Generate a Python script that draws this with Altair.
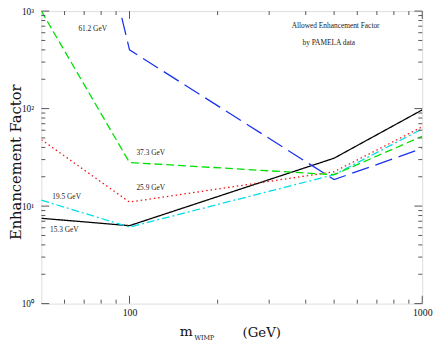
import altair as alt
import pandas as pd

# ---- data ----
masses = [50, 100, 500, 1000]
series_names = ["15.3 GeV", "19.5 GeV", "25.9 GeV", "37.3 GeV", "61.2 GeV"]
black_15 = [7.5, 6.3, 31, 97]
cyan_19 = [11.5, 6.1, 21, 62]
red_25 = [48, 11, 22.5, 65]
green_37 = [1000, 28, 21, 52]
blue_masses = [90, 100, 500, 1000]
blue_61 = [1500, 400, 18.7, 39]

label_x = [53.5, 54.5, 105.6, 105.6, 66.9]
label_y = [5.7, 12.4, 15.2, 34.7, 648]

x_major = [100, 1000]
x_minor = [60, 70, 80, 90, 200, 300, 400, 500, 600, 700, 800, 900]
y_major = [1, 10, 100, 1000]
y_minor = [m * d for d in [1, 10, 100] for m in range(2, 10)]

W, H = 388, 298
SERIF = "Liberation Serif"
TSERIF = "DejaVu Serif"

rows = []
for name, xs, ys in [
    ("15.3 GeV", masses, black_15),
    ("19.5 GeV", masses, cyan_19),
    ("25.9 GeV", masses, red_25),
    ("37.3 GeV", masses, green_37),
    ("61.2 GeV", blue_masses, blue_61),
]:
    for xv, yv in zip(xs, ys):
        rows.append({"x": xv, "y": yv, "series": name})
lines_df = pd.DataFrame(rows)

labels_df = pd.DataFrame({"x": label_x, "y": label_y, "text": series_names})

xscale = alt.Scale(type="log", domain=[50, 1000], nice=False)
yscale = alt.Scale(type="log", domain=[1, 1000], nice=False)

xaxis = alt.Axis(values=x_major, format="d", ticks=False, domain=False,
                 grid=False, labelFont=SERIF, labelFontSize=10, labelFlush=False,
                 labelColor="#111", labelPadding=4, title=None)
yaxis = alt.Axis(values=y_major, ticks=False, domain=False, grid=False,
                 labelExpr="'10' + (datum.value == 1 ? '⁰' : datum.value == 10 ? '¹' : datum.value == 100 ? '²' : '³')",
                 labelFont=SERIF, labelFontSize=9.5, labelColor="#111", labelFlush=False,
                 labelPadding=8, title=None)

colors = ["#000000", "#00dcea", "#ee1111", "#00e000", "#1a33ee"]
dashes = [[1, 0], [8, 3, 2, 3], [1.5, 3], [8, 4], [18, 7]]

lines = alt.Chart(lines_df).mark_line(clip=True, strokeWidth=1.3).encode(
    x=alt.X("x:Q", scale=xscale, axis=xaxis),
    y=alt.Y("y:Q", scale=yscale, axis=yaxis),
    color=alt.Color("series:N", scale=alt.Scale(domain=series_names, range=colors), legend=None),
    strokeDash=alt.StrokeDash("series:N", scale=alt.Scale(domain=series_names, range=dashes), legend=None),
    detail="series:N",
)

labels = alt.Chart(labels_df).mark_text(align="left", baseline="middle", font=SERIF,
                                        fontSize=7.5, color="#222").encode(
    x=alt.X("x:Q", scale=xscale, axis=xaxis),
    y=alt.Y("y:Q", scale=yscale, axis=yaxis),
    text="text:N",
)

xt_major = pd.DataFrame({"x": x_major})
xt_minor = pd.DataFrame({"x": x_minor})
yt_major = pd.DataFrame({"y": y_major})
yt_minor = pd.DataFrame({"y": y_minor})

tick_color = "#555"


def xticks(df, ln):
    bottom = alt.Chart(df).mark_rule(color=tick_color, strokeWidth=1).encode(
        x=alt.X("x:Q", scale=xscale, axis=xaxis), y=alt.value(H), y2=alt.value(H - ln))
    top = alt.Chart(df).mark_rule(color=tick_color, strokeWidth=1).encode(
        x=alt.X("x:Q", scale=xscale, axis=xaxis), y=alt.value(0), y2=alt.value(ln))
    return [bottom, top]


def yticks(df, ln):
    left = alt.Chart(df).mark_rule(color=tick_color, strokeWidth=1).encode(
        y=alt.Y("y:Q", scale=yscale, axis=yaxis), x=alt.value(0), x2=alt.value(ln))
    right = alt.Chart(df).mark_rule(color=tick_color, strokeWidth=1).encode(
        y=alt.Y("y:Q", scale=yscale, axis=yaxis), x=alt.value(W), x2=alt.value(W - ln))
    return [left, right]


ticks = xticks(xt_major, 8) + xticks(xt_minor, 4) + yticks(yt_major, 8) + yticks(yt_minor, 4)

title_df = pd.DataFrame({"a": [0]})
ann1 = alt.Chart(title_df).mark_text(align="left", baseline="middle", font=SERIF,
                                     fontSize=7.5, color="#222",
                                     text="Allowed Enhancement Factor").encode(
    x=alt.value(255), y=alt.value(15))
ann2 = alt.Chart(title_df).mark_text(align="left", baseline="middle", font=SERIF,
                                     fontSize=7.5, color="#222",
                                     text="by PAMELA data").encode(
    x=alt.value(266), y=alt.value(33))

xt_m = alt.Chart(title_df).mark_text(align="left", baseline="alphabetic", font=TSERIF,
                                     fontSize=14, color="#111", text="m").encode(
    x=alt.value(141), y=alt.value(331))
xt_sub = alt.Chart(title_df).mark_text(align="left", baseline="alphabetic", font=TSERIF,
                                       fontSize=6.5, color="#111", text="WIMP").encode(
    x=alt.value(156), y=alt.value(335))
xt_gev = alt.Chart(title_df).mark_text(align="left", baseline="alphabetic", font=TSERIF,
                                       fontSize=13.5, color="#111", text="(GeV)").encode(
    x=alt.value(205), y=alt.value(332))
yt = alt.Chart(title_df).mark_text(align="center", baseline="middle", font=TSERIF,
                                   fontSize=15, color="#111", angle=270,
                                   text="Enhancement Factor").encode(
    x=alt.value(-26), y=alt.value(154))

chart = alt.layer(lines, labels, *ticks, ann1, ann2, xt_m, xt_sub, xt_gev, yt).properties(
    width=W, height=H,
    autosize=alt.AutoSizeParams(type="none"),
    padding={"left": 34, "top": 0, "right": 13, "bottom": 38},
).configure_view(stroke="#666", strokeWidth=1).configure(background="white")

chart.save("out.html", embed_options={"renderer": "svg", "actions": False})
